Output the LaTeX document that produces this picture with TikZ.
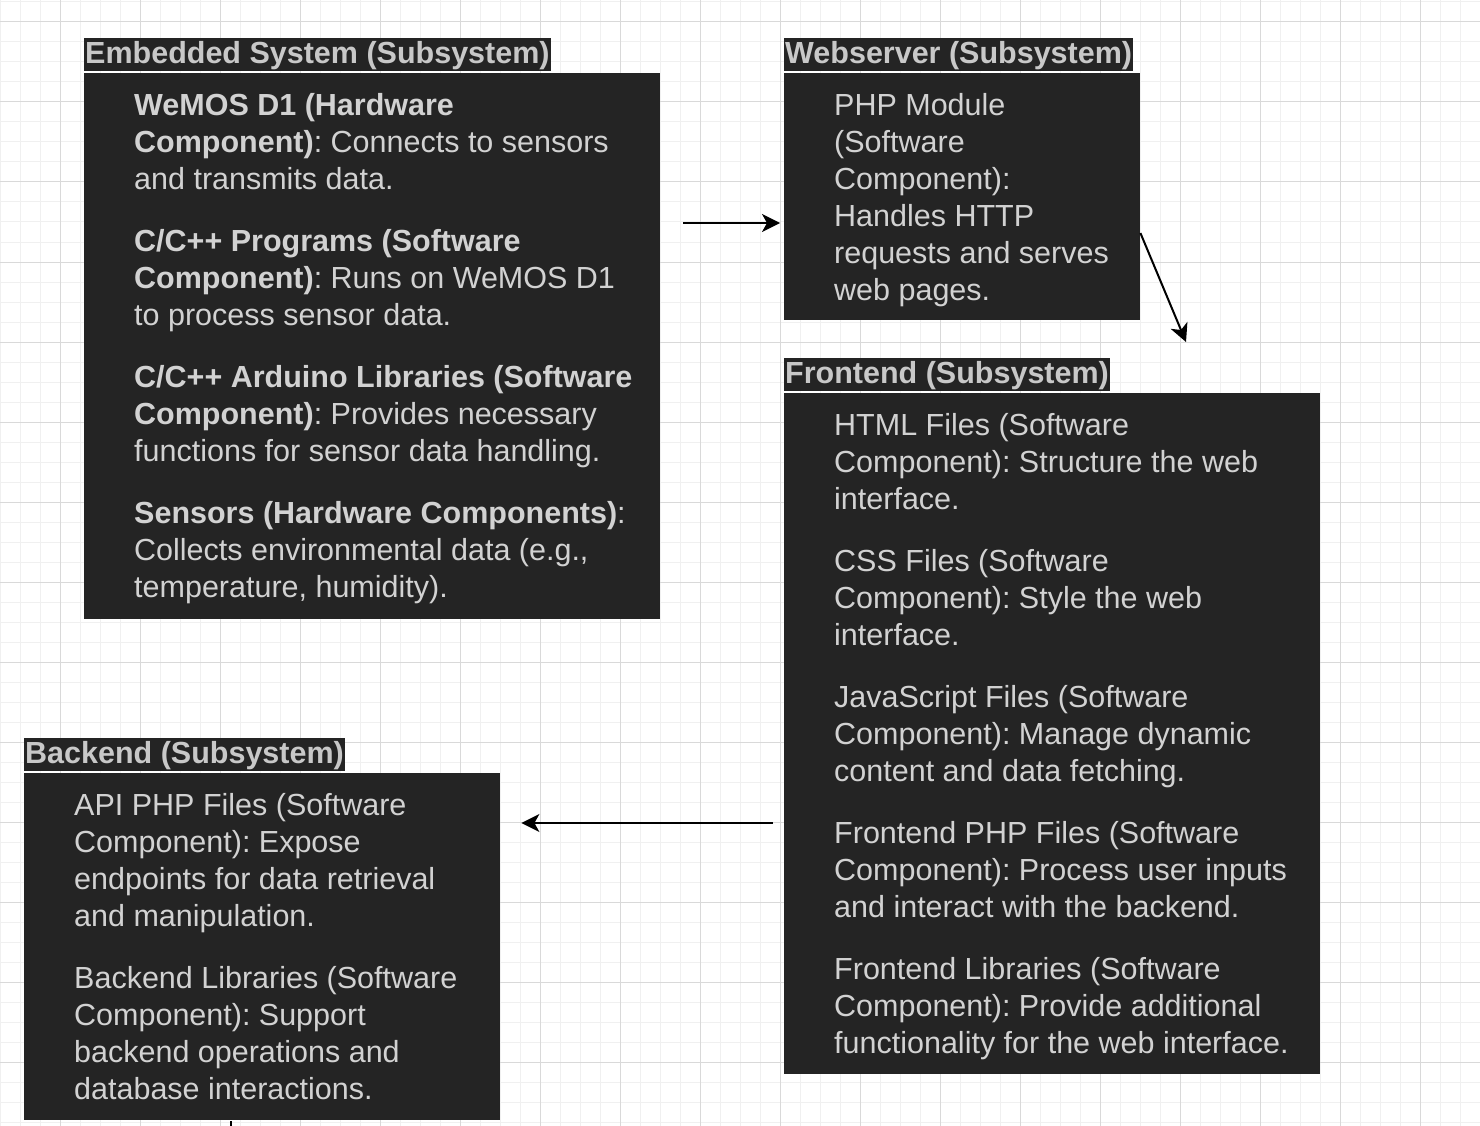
\documentclass[tikz,border=0pt]{standalone}
\usepackage{fontspec}
\setmainfont{Liberation Sans}
\frenchspacing
\usetikzlibrary{arrows.meta}
\definecolor{boxfill}{HTML}{242424}
\definecolor{boxtext}{HTML}{D2D2D2}
\definecolor{ttltext}{HTML}{C8C8C8}
\definecolor{minorgrid}{HTML}{F0F0F0}
\definecolor{majorgrid}{HTML}{D9D9D9}
\tikzset{
  box/.style={rectangle,fill=boxfill,inner sep=0pt,anchor=north west},
  ttl/.style={rectangle,fill=boxfill,text=ttltext,font={\fontsize{30.5}{37}\selectfont\bfseries},
    inner xsep=1pt,inner ysep=0pt,text height=25.5pt,text depth=7.5pt,anchor=south west},
  txt/.style={text=boxtext,font={\fontsize{30.5}{37}\selectfont},align=left,inner sep=0pt,anchor=north west},
  arr/.style={line width=2pt,-{Stealth[length=18pt,width=18pt,inset=5pt]}}
}
\begin{document}
\begin{tikzpicture}[x=1pt,y=-1pt]
\useasboundingbox (0,0) rectangle (1480,1126);
\fill[white] (0,0) rectangle (1480,1126);
\foreach \x in {0,20,...,1480} \draw[minorgrid,line width=1pt] (\x,0)--(\x,1126);
\foreach \y in {2,22,...,1126} \draw[minorgrid,line width=1pt] (0,\y)--(1480,\y);
\foreach \x in {60,140,...,1480} \draw[majorgrid,line width=1pt] (\x,0)--(\x,1126);
\foreach \y in {22,102,...,1126} \draw[majorgrid,line width=1pt] (0,\y)--(1480,\y);

\node[box,minimum width=576pt,minimum height=546pt] (emb) at (84,73) {};
\node[ttl] (embttl) at (84,71.5) {Embedded System (Subsystem)};
\node[txt] (embtxt) at (134,89) {\strut\textbf{WeMOS D1 (Hardware}\\
\textbf{Component)}: Connects to sensors\\
and transmits data.\\[25pt]
\textbf{C/C++ Programs (Software}\\
\textbf{Component)}: Runs on WeMOS D1\\
to process sensor data.\\[25pt]
\textbf{C/C++ Arduino Libraries (Software}\\
\textbf{Component)}: Provides necessary\\
functions for sensor data handling.\\[25pt]
\textbf{Sensors (Hardware Components)}:\\
Collects environmental data (e.g.,\\
temperature, humidity).};

\node[box,minimum width=356pt,minimum height=247pt] (web) at (784,73) {};
\node[ttl] (webttl) at (784,71.5) {Webserver (Subsystem)};
\node[txt] (webtxt) at (834,89) {\strut PHP Module\\
(Software\\
Component):\\
Handles HTTP\\
requests and serves\\
web pages.};

\node[box,minimum width=536pt,minimum height=681pt] (fro) at (784,393) {};
\node[ttl] (frottl) at (784,391.5) {Frontend (Subsystem)};
\node[txt] (frotxt) at (834,409) {\strut HTML Files (Software\\
Component): Structure the web\\
interface.\\[25pt]
CSS Files (Software\\
Component): Style the web\\
interface.\\[25pt]
JavaScript Files (Software\\
Component): Manage dynamic\\
content and data fetching.\\[25pt]
Frontend PHP Files (Software\\
Component): Process user inputs\\
and interact with the backend.\\[25pt]
Frontend Libraries (Software\\
Component): Provide additional\\
functionality for the web interface.};

\node[box,minimum width=476pt,minimum height=347pt] (bac) at (24,773) {};
\node[ttl] (bacttl) at (24,771.5) {Backend (Subsystem)};
\node[txt] (bactxt) at (74,789) {\strut API PHP Files (Software\\
Component): Expose\\
endpoints for data retrieval\\
and manipulation.\\[25pt]
Backend Libraries (Software\\
Component): Support\\
backend operations and\\
database interactions.};

\coordinate (froin) at (1186,342);
\draw[arr,shorten <=23pt,shorten >=4pt] (emb.east |- 0,223) -- (web.west |- 0,223);
\draw[arr] (web.east |- 0,233) -- (froin);
\draw[arr,shorten <=11pt,shorten >=21pt] (fro.west |- 0,823) -- (bac.east |- 0,823);
\draw[line width=1.5pt] ([xshift=207pt,yshift=-1pt]bac.south west) -- ++(0,6);
\end{tikzpicture}
\end{document}
